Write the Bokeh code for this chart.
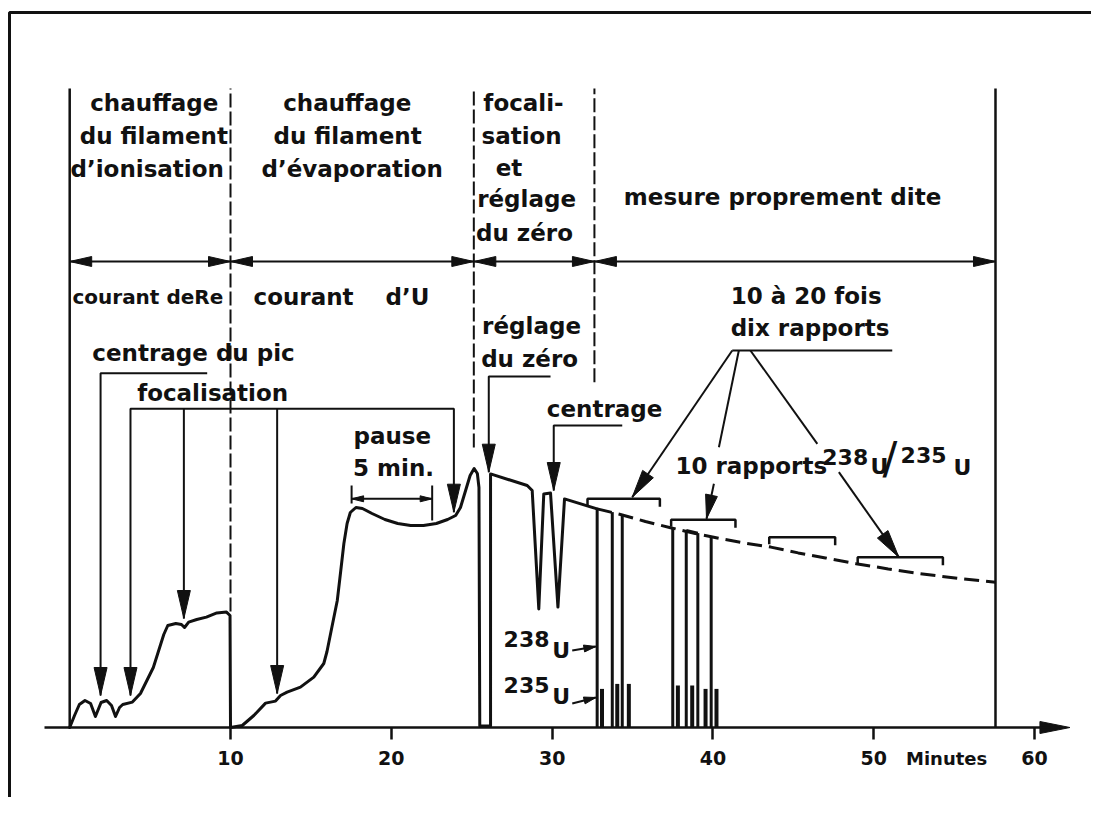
import math
from bokeh.plotting import figure
from bokeh.models import Range1d, LinearAxis, FixedTicker
from bokeh.core.properties import value
from bokeh.embed import file_html
from bokeh.resources import INLINE

# ---------------- data (minutes / signal in arbitrary units) ----------------
trace_min = [0, 0.3, 0.6, 0.95, 1.3, 1.6, 1.95, 2.3, 2.6, 2.85, 3.1, 3.3, 3.9, 4.4, 5.2, 5.85,
             6.1, 6.6, 6.95, 7.14, 7.4, 7.9, 8.5, 9.15, 9.75, 9.97, 10.0,
             10.0, 10.73, 11.45, 12.18, 12.8, 13.11, 13.52, 14.35, 15.18, 15.8, 16.0, 16.3,
             16.64, 16.85, 17.05, 17.25, 17.45, 17.8, 18.2, 18.8, 19.6, 20.4, 21.2, 22.0,
             22.8, 23.5, 24.0, 24.3, 24.6, 24.9, 25.15, 25.35, 25.45, 25.5,
             26.17, 26.17, 28.45, 28.76, 29.17, 29.48, 29.9, 30.36, 30.77, 32.8]
trace_val = [0, 6, 11.5, 13.5, 12, 5.5, 12.5, 13.5, 11, 5.5, 10, 11.5, 12.7, 17, 30, 46.5,
             51, 52, 51.5, 50, 52.7, 54, 55.2, 57.3, 57.7, 56, 0,
             0, 1, 6, 12.2, 13.2, 16, 17.7, 20.2, 25.2, 32, 38, 50,
             63.5, 78, 92, 102, 107.5, 110, 109.5, 107, 104, 102, 101, 101,
             102, 104, 106, 110, 118, 126, 129.5, 127, 120, 0.8,
             0.8, 126.8, 121, 118.5, 59.3, 116.8, 117.2, 60.2, 114.3, 109.3]

decay_min = [32.8, 34.25, 35.8, 37.36, 38.9, 40.47, 42.0, 43.6, 45.3, 47.0, 48.9, 50.9, 52.9, 55.2, 57.57]
decay_val = [109.3, 106.5, 103.0, 99.9, 97.0, 94.4, 92.2, 90.2, 87.3, 84.8, 81.9, 79.3, 76.9, 74.6, 72.6]

peak238_min = [32.8, 33.74, 34.36, 37.5, 38.34, 39.06, 39.89]
peak238_val = [109.3, 107.7, 106.0, 99.9, 98.5, 97.2, 95.2]
peak235_min = [33.1, 34.05, 34.77, 37.82, 38.71, 39.54, 40.22]
peak235_val = [19.3, 21.8, 21.8, 21.0, 21.0, 19.3, 19.3]

phase_bounds = [0, 10, 25.13, 32.63, 57.57]
block_start = [32.2, 37.4, 43.5, 49.0]
block_end = [36.7, 41.4, 47.6, 54.3]
block_level = [114.35, 103.85, 95.15, 85.15]

tick_values = [10, 20, 30, 40, 50, 60]
tick_labels = ["10", "20", "30", "40", "50", "60"]

# ---------------- figure ----------------
W, H = 1091, 797
X0, X1 = -4.303, 63.54
Y0, Y1 = -35.0, 363.5
SX = W / (X1 - X0)
SY = H / (Y1 - Y0)

p = figure(width=W, height=H, x_range=Range1d(X0, X1), y_range=Range1d(Y0, Y1),
           x_axis_type=None, y_axis_type=None, toolbar_location=None,
           output_backend="svg", min_border=0, outline_line_color=None,
           background_fill_color="white", border_fill_color="white")

INK = "#111111"
FONT = value("DejaVu Sans")

# page frame (scan border)
p.line([-3.744, -3.744, X1], [Y0, 357.5, 357.5], line_color=INK, line_width=3)

# x axis at signal zero
xaxis = LinearAxis(fixed_location=0, ticker=FixedTicker(ticks=tick_values),
                   major_label_overrides={t: s for t, s in zip(tick_values, tick_labels)})
xaxis.bounds = (-1.57, 61.0)
xaxis.axis_line_color = INK
xaxis.axis_line_width = 2.5
xaxis.major_tick_line_color = INK
xaxis.major_tick_line_width = 2.5
xaxis.major_tick_out = 12
xaxis.major_tick_in = 0
xaxis.minor_tick_line_color = None
xaxis.major_label_standoff = 11
xaxis.major_label_text_font = "DejaVu Sans"
xaxis.major_label_text_font_style = "bold"
xaxis.major_label_text_font_size = "19px"
xaxis.major_label_text_color = INK
p.add_layout(xaxis, "below")


def head(tx, ty, fx, fy, L, Wd):
    dx = (tx - fx) * SX
    dy = (ty - fy) * SY
    n = math.hypot(dx, dy)
    ux, uy = dx / n, dy / n
    bx, by = tx * SX - ux * L, ty * SY - uy * L
    nx, ny = -uy, ux
    xs = [tx, (bx + nx * Wd) / SX, (bx - nx * Wd) / SX]
    ys = [ty, (by + ny * Wd) / SY, (by - ny * Wd) / SY]
    return xs, ys


heads_x, heads_y = [], []


def add_head(tx, ty, fx, fy, L=28, Wd=6.5):
    xs, ys = head(tx, ty, fx, fy, L, Wd)
    heads_x.append(xs)
    heads_y.append(ys)


# phase separators
TOP = 319.5
p.segment(x0=[phase_bounds[0], phase_bounds[4]], y0=[0, 0], x1=[phase_bounds[0], phase_bounds[4]],
          y1=[TOP, TOP], line_color=INK, line_width=2.5)
p.segment(x0=phase_bounds[1:4], y0=[58, 140, 172.6], x1=phase_bounds[1:4], y1=[TOP] * 3,
          line_color=INK, line_width=2, line_dash="14 4")

# double arrows of the phases
ROW = 233
p.segment(x0=phase_bounds[:-1], y0=[ROW] * 4, x1=phase_bounds[1:], y1=[ROW] * 4,
          line_color=INK, line_width=2)
for a, b in zip(phase_bounds[:-1], phase_bounds[1:]):
    add_head(a, ROW, b, ROW, 22, 5)
    add_head(b, ROW, a, ROW, 22, 5)

# recorder trace
p.line(trace_min, trace_val, line_color=INK, line_width=3, line_join="round", line_cap="round")
p.line(decay_min, decay_val, line_color=INK, line_width=3, line_dash="15 7")
p.segment(x0=peak238_min, y0=[0] * len(peak238_min), x1=peak238_min, y1=peak238_val,
          line_color=INK, line_width=3)
p.segment(x0=[peak238_min[4]], y0=[peak238_val[4]], x1=[peak238_min[5]], y1=[peak238_val[5]],
          line_color=INK, line_width=3)
p.segment(x0=peak235_min, y0=[0] * len(peak235_min), x1=peak235_min, y1=peak235_val,
          line_color=INK, line_width=4)

# brackets of the ratio blocks
bx, by = [], []
for s, e, lv in zip(block_start, block_end, block_level):
    bx.append([s, s, e, e])
    by.append([lv - 3.5, lv, lv, lv - 4])
p.multi_line(bx, by, line_color=INK, line_width=2.5)

# annotation leaders
leaders = [
    ([1.92, 1.92, 8.55], [16, 177.15, 177.15]),            # centrage du pic
    ([3.78, 3.78, 23.89, 23.89], [16, 159.35, 159.35, 107.65]),  # focalisation
    ([7.1, 7.1], [54.5, 159.35]),
    ([12.9, 12.9], [17, 159.35]),
    ([26.06, 26.06, 29.9], [127.65, 175.5, 175.5]),         # réglage du zéro
    ([30.1, 30.1, 34.36], [118.5, 151, 151]),               # centrage
    ([41.2, 51.15], [188.5, 188.5]),                        # underline dix rapports
    ([41.2, 34.98], [188.5, 115.15]),
    ([41.61, 40.37], [188.5, 140.15]),
    ([40.06, 39.6], [121.85, 104.35]),
    ([42.33, 46.49], [188.5, 141.85]),
    ([47.83, 51.56], [127.65, 85.15]),
    ([17.53, 22.54], [114.35, 114.35]),                     # pause dimension
    ([17.53, 17.53], [112, 121]),
    ([22.54, 22.54], [103.5, 121]),
    ([31.25, 32.72], [38.5, 40.5]),                          # 238U pointer
    ([31.25, 32.72], [12, 15]),                              # 235U pointer
]
p.multi_line([l[0] for l in leaders], [l[1] for l in leaders], line_color=INK, line_width=2)

add_head(1.92, 16, 1.92, 100)
add_head(3.78, 16, 3.78, 100)
add_head(7.1, 54.5, 7.1, 150)
add_head(12.9, 17, 12.9, 150)
add_head(23.89, 107.65, 23.89, 150)
add_head(26.06, 127.65, 26.06, 170)
add_head(30.1, 118.5, 30.1, 150)
add_head(34.98, 115.15, 41.2, 188.5)
add_head(39.6, 104.35, 40.06, 121.85, 24, 6)
add_head(51.56, 85.15, 47.83, 127.65)
add_head(17.53, 114.35, 22.54, 114.35, 12, 3)
add_head(22.54, 114.35, 17.53, 114.35, 12, 3)
add_head(32.72, 40.5, 31.25, 38.5, 12, 3.5)
add_head(32.72, 15, 31.25, 12, 12, 3.5)
add_head(62.2, 0, 60.0, 0, 30, 6)
p.patches(heads_x, heads_y, fill_color=INK, line_color=INK, line_width=1)

# ---------------- texts ----------------
center_texts = [
    ("chauffage", 5.26, 312.5), ("du filament", 5.23, 296), ("d’ionisation", 4.82, 279.5),
    ("chauffage", 17.26, 312.5), ("du filament", 17.28, 296), ("d’évaporation", 17.57, 279.5),
    ("focali-", 28.22, 312.5), ("sation", 28.1, 296), ("et", 27.32, 280),
    ("réglage", 28.41, 264.5), ("du zéro", 28.28, 247.5),
    ("mesure proprement dite", 44.33, 265.5),
    ("centrage du pic", 7.7, 187.5), ("focalisation", 8.89, 167.5),
    ("pause", 20.06, 145.85), ("5 min.", 20.14, 130),
    ("réglage", 28.72, 200.85), ("du zéro", 28.6, 184.15),
    ("centrage", 33.26, 159.15),
]
p.text(x=[t[1] for t in center_texts], y=[t[2] for t in center_texts],
       text=[t[0] for t in center_texts], text_font=FONT, text_font_style="bold",
       text_font_size="23px", text_align="center", text_baseline="alphabetic", text_color=INK)

left_texts = [
    ("courant", 11.43, 215.5), ("d’U", 19.64, 215.5),
    ("10 à 20 fois", 41.1, 216), ("dix rapports", 41.1, 200), ("10 rapports", 37.67, 130.85),
]
p.text(x=[t[1] for t in left_texts], y=[t[2] for t in left_texts],
       text=[t[0] for t in left_texts], text_font=FONT, text_font_style="bold",
       text_font_size="23px", text_align="left", text_baseline="alphabetic", text_color=INK)
p.text(x=[0.17], y=[215.5], text=["courant deRe"], text_font=FONT, text_font_style="bold",
       text_font_size="20px", text_align="left", text_baseline="alphabetic", text_color=INK)

iso_texts = [
    ("238", 26.98, 44.35), ("U", 30.0, 38.5), ("235", 26.98, 21.15), ("U", 30.0, 15.35),
    ("238", 46.8, 135.5), ("U", 49.8, 130.5), ("235", 51.67, 136.5), ("U", 54.96, 130),
]
p.text(x=[t[1] for t in iso_texts], y=[t[2] for t in iso_texts],
       text=[t[0] for t in iso_texts], text_font=FONT, text_font_style="bold",
       text_font_size="22px", text_align="left", text_baseline="alphabetic", text_color=INK)
p.text(x=[50.55], y=[134.5], text=["/"], text_font=FONT, text_font_style="normal",
       text_font_size="44px", text_align="left", text_baseline="alphabetic", text_color=INK)

p.text(x=[54.53], y=[-15.5], text=["Minutes"], text_font=FONT, text_font_style="bold",
       text_font_size="18px", text_align="center", text_baseline="alphabetic", text_color=INK)

open("out.html", "w").write(file_html(p, INLINE))
